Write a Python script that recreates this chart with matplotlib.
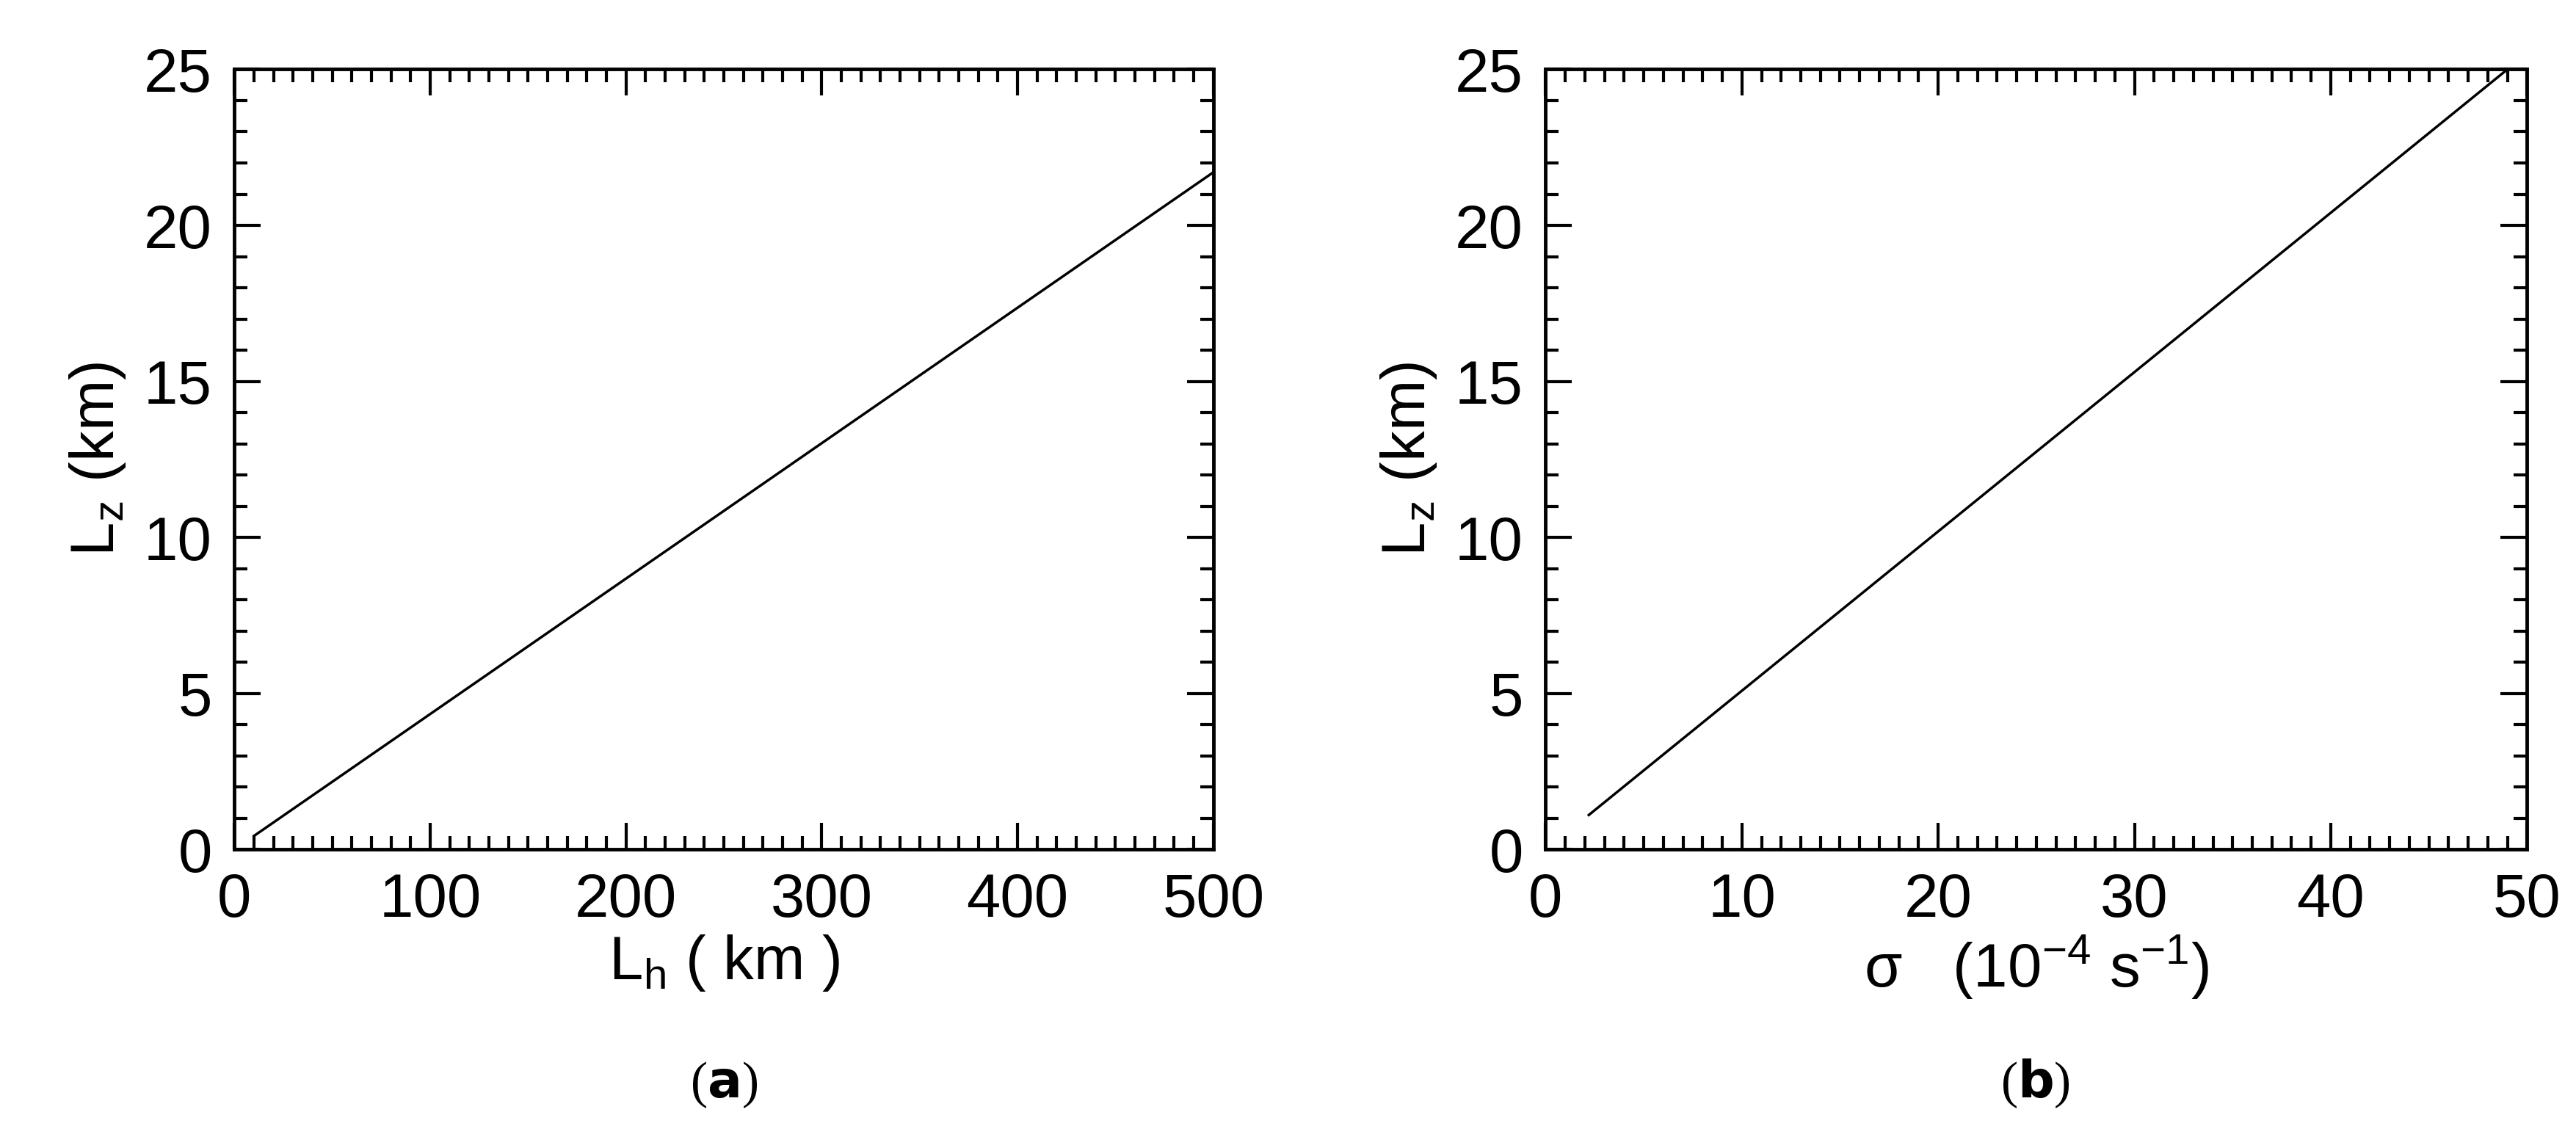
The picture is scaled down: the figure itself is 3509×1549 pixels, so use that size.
import matplotlib
matplotlib.use('Agg')
import matplotlib.pyplot as plt
from matplotlib.ticker import MultipleLocator

plt.rcParams['font.family'] = ['Liberation Sans', 'DejaVu Sans']
plt.rcParams['mathtext.default'] = 'regular'

# panel (a): Lz vs Lh
lh_km = [10, 500]
lz_a_km = [0.43, 21.7]

# panel (b): Lz vs sigma
sigma = [2.2, 49.0]
lz_b_km = [1.1, 25.0]

fig = plt.figure(figsize=(35.09, 15.49), dpi=100)
ax1 = fig.add_axes([0.091, 0.253, 0.380, 0.686])
ax2 = fig.add_axes([0.600, 0.253, 0.381, 0.686])


def style(ax, xmax, xmaj, xmin):
    ax.set_xlim(0, xmax)
    ax.set_ylim(0, 25)
    ax.xaxis.set_major_locator(MultipleLocator(xmaj))
    ax.xaxis.set_minor_locator(MultipleLocator(xmin))
    ax.yaxis.set_major_locator(MultipleLocator(5))
    ax.yaxis.set_minor_locator(MultipleLocator(1))
    ax.tick_params(which='both', direction='in', top=True, right=True,
                   width=3, labelsize=60, pad=22)
    ax.tick_params(which='major', length=26)
    ax.tick_params(which='minor', length=13)
    for s in ax.spines.values():
        s.set_linewidth(3.5)


ax1.plot(lh_km, lz_a_km, color='black', lw=2.5)
style(ax1, 500, 100, 10)
ax1.set_xlabel(r'L$_{h}$ ( km )', fontsize=60, labelpad=4)
ax1.set_ylabel(r'L$_{z}$ (km)', fontsize=60, labelpad=16)

ax2.plot(sigma, lz_b_km, color='black', lw=2.5)
style(ax2, 50, 10, 1)
ax2.set_xlabel('σ   (10$^{-4}$ s$^{-1}$)', fontsize=60, labelpad=4)
ax2.set_ylabel(r'L$_{z}$ (km)', fontsize=60, labelpad=16)

for xpos, letter in [(0.281, 'a'), (0.790, 'b')]:
    fig.text(xpos, 0.035, '(' + r'$\mathbf{' + letter + '}$' + ')', ha='center',
             fontsize=50, family='Liberation Serif')

fig.savefig('out.png', dpi=100)
